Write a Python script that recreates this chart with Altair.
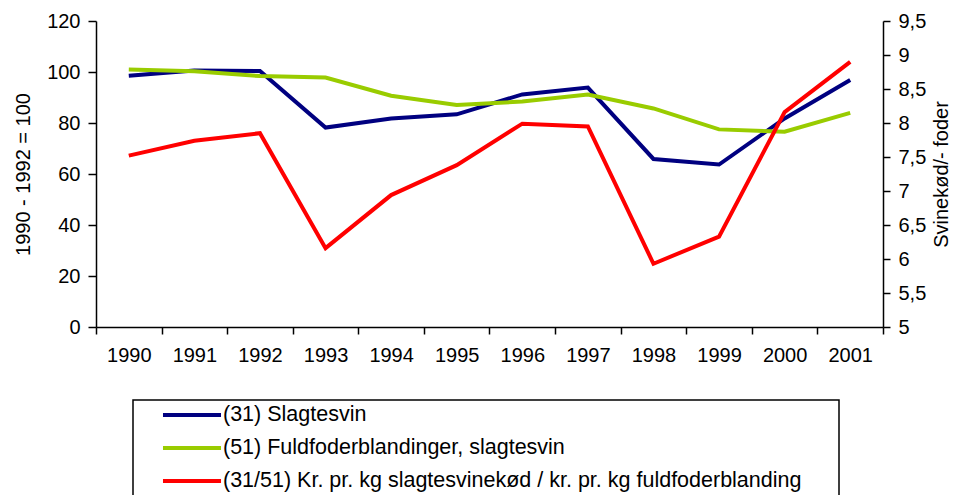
import altair as alt
import pandas as pd

years = ["1990", "1991", "1992", "1993", "1994", "1995", "1996", "1997", "1998", "1999", "2000", "2001"]
slagtesvin = [98.5, 100.6, 100.4, 78.2, 81.8, 83.4, 91.2, 93.9, 65.9, 63.7, 81.8, 96.9]
fuldfoder = [101.0, 100.3, 98.4, 97.8, 90.7, 87.1, 88.4, 91.2, 85.7, 77.5, 76.6, 84.0]
ratio = [7.52, 7.74, 7.85, 6.16, 6.94, 7.38, 7.99, 7.95, 5.93, 6.33, 8.16, 8.90]

series_names = [
    "(31) Slagtesvin",
    "(51) Fuldfoderblandinger, slagtesvin",
    "(31/51) Kr. pr. kg slagtesvinekød / kr. pr. kg fuldfoderblanding",
]
colors = ["#000080", "#99CC00", "#FF0000"]
left_ticks = [0, 20, 40, 60, 80, 100, 120]
right_ticks = [5, 5.5, 6, 6.5, 7, 7.5, 8, 8.5, 9, 9.5]

left_df = pd.DataFrame({
    "year": years * 2,
    "value": slagtesvin + fuldfoder,
    "series": [series_names[0]] * len(years) + [series_names[1]] * len(years),
})
right_df = pd.DataFrame({
    "year": years,
    "value": ratio,
    "series": [series_names[2]] * len(years),
})
box_df = pd.DataFrame({"box": ["legend"]})

FONT = "Liberation Sans"

x_enc = alt.X(
    "year:O",
    sort=years,
    scale=alt.Scale(type="band", paddingInner=0, paddingOuter=0),
    axis=alt.Axis(title=None, labelAngle=0, tickBand="extent", tickSize=7, labelPadding=11),
)

color_enc = alt.Color(
    "series:N",
    scale=alt.Scale(domain=series_names, range=colors),
    legend=alt.Legend(
        title=None,
        orient="none",
        legendX=84,
        legendY=382,
        direction="vertical",
        symbolType="M-3,0H3",
        symbolSize=374,
        symbolStrokeWidth=4,
        labelFontSize=21.5,
        labelFont=FONT,
        labelColor="black",
        labelLimit=0,
        labelOffset=19,
        rowPadding=10,
        padding=0,
    ),
)

left = alt.Chart(left_df).mark_line(strokeWidth=4).encode(
    x=x_enc,
    y=alt.Y(
        "value:Q",
        scale=alt.Scale(domain=[0, 120], nice=False),
        axis=alt.Axis(values=left_ticks, title="1990 - 1992 = 100", grid=False,
                      tickSize=8, labelPadding=8, titlePadding=13),
    ),
    color=color_enc,
)

right = alt.Chart(right_df).mark_line(strokeWidth=4).encode(
    x=x_enc,
    y=alt.Y(
        "value:Q",
        scale=alt.Scale(domain=[5, 9.5], nice=False),
        axis=alt.Axis(orient="right", values=right_ticks, title="Svinekød/- foder",
                      titleAngle=270, titleX=58, titleY=153, titleAlign="center",
                      titleBaseline="middle",
                      grid=False, tickSize=7, labelPadding=8,
                      format="~g",
                      labelExpr="replace(datum.label, '.', ',')"),
    ),
    color=color_enc,
)

box = alt.Chart(box_df).mark_rect(fillOpacity=0, stroke="black", strokeWidth=1.5).encode(
    x=alt.value(37), x2=alt.value(743), y=alt.value(379), y2=alt.value(480)
)

chart = alt.layer(left, right, box).resolve_scale(y="independent").properties(
    width=787,
    height=306,
    autosize=alt.AutoSizeParams(type="none"),
    padding={"left": 88, "top": 13, "right": 69, "bottom": 168},
).configure_view(stroke=None).configure_axis(
    domainColor="black",
    tickColor="black",
    domainWidth=1.5,
    tickWidth=1.5,
    labelFont=FONT,
    labelFontSize=20,
    labelColor="black",
    titleFont=FONT,
    titleFontSize=20,
    titleFontWeight="normal",
    titleColor="black",
)

chart.save("out.html", embed_options={"renderer": "svg", "actions": False})
